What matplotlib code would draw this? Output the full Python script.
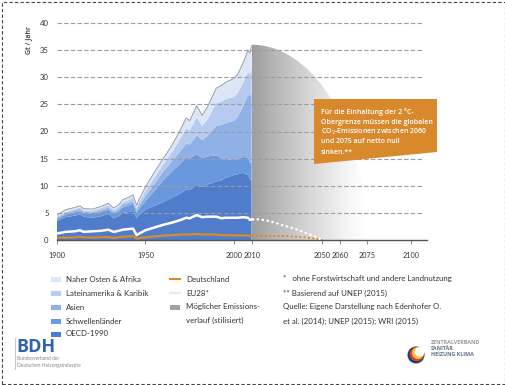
import matplotlib.pyplot as plt
import matplotlib.patches as mpatches
from matplotlib.lines import Line2D
import numpy as np

plt.rcParams['font.family'] = ['Lato', 'DejaVu Sans']
BOLD = ['Open Sans', 'Roboto', 'DejaVu Sans']

# --- data (Gt CO2 / Jahr) ---
years = [1900, 1905, 1910, 1913, 1915, 1920, 1925, 1929, 1932, 1935, 1937, 1940,
         1943, 1945, 1946, 1950, 1955, 1960, 1965, 1970, 1973, 1975, 1979, 1982,
         1985, 1990, 1993, 1995, 2000, 2002, 2005, 2008, 2009, 2010]
oecd = [3.5, 4.2, 4.5, 4.7, 4.3, 4.1, 4.4, 4.8, 4.0, 4.4, 5.0, 5.1, 5.4, 4.0, 4.5,
        5.6, 6.3, 7.0, 7.8, 8.6, 9.3, 9.2, 10.2, 9.8, 10.2, 10.8, 11.0, 11.4, 12.0,
        12.1, 12.4, 12.0, 11.2, 11.0]
schwellen = [0.4, 0.5, 0.6, 0.6, 0.6, 0.7, 0.8, 0.8, 0.8, 0.9, 1.0, 1.2, 1.3, 1.0,
             1.1, 1.6, 2.7, 4.0, 4.8, 5.6, 5.9, 5.8, 5.6, 5.3, 5.2, 4.8, 4.0, 3.4,
             2.8, 2.8, 2.9, 3.2, 3.1, 3.2]
asien = [0.2, 0.3, 0.3, 0.4, 0.3, 0.3, 0.3, 0.4, 0.4, 0.4, 0.5, 0.5, 0.5, 0.5, 0.6,
         0.9, 1.3, 1.6, 1.9, 2.3, 2.6, 2.6, 3.5, 3.3, 3.8, 5.4, 6.2, 6.7, 7.2, 7.7,
         9.2, 11.6, 12.2, 13.3]
lateinamerika = [0.2, 0.2, 0.3, 0.3, 0.3, 0.3, 0.4, 0.4, 0.3, 0.4, 0.4, 0.5, 0.6,
                 0.4, 0.5, 0.9, 1.2, 1.3, 1.7, 2.3, 2.8, 2.6, 3.3, 2.6, 3.0, 4.2,
                 4.3, 4.4, 4.4, 4.4, 4.3, 4.2, 4.1, 4.1]
naher_osten = [0.3, 0.4, 0.3, 0.3, 0.3, 0.3, 0.3, 0.4, 0.4, 0.4, 0.5, 0.5, 0.5, 0.5,
               0.5, 0.8, 1.0, 1.1, 1.3, 1.7, 1.9, 1.8, 2.2, 2.0, 2.3, 2.8, 3.0, 3.1,
               3.4, 3.5, 3.7, 4.0, 3.9, 4.2]
eu28 = [1.2, 1.5, 1.6, 1.8, 1.5, 1.6, 1.7, 1.9, 1.5, 1.7, 1.9, 2.0, 2.1, 0.9, 1.1,
        1.8, 2.3, 2.8, 3.2, 3.7, 4.1, 4.0, 4.6, 4.2, 4.3, 4.3, 4.0, 4.1, 4.1, 4.1,
        4.2, 4.1, 3.7, 3.8]
deutschland = [0.4, 0.45, 0.5, 0.6, 0.5, 0.45, 0.5, 0.55, 0.4, 0.5, 0.6, 0.65, 0.7,
               0.25, 0.3, 0.5, 0.65, 0.8, 0.9, 1.0, 1.05, 1.0, 1.1, 1.0, 1.05, 1.0,
               0.9, 0.9, 0.85, 0.85, 0.85, 0.8, 0.75, 0.8]

proj_years = [2010, 2015, 2020, 2025, 2030, 2035, 2040, 2045, 2050]
eu28_proj = [3.8, 3.8, 3.5, 3.0, 2.5, 2.0, 1.4, 0.7, 0.0]
de_proj = [0.8, 0.78, 0.75, 0.72, 0.7, 0.62, 0.5, 0.3, 0.0]

# stilisierter Verlauf
pfad_start, pfad_ende, pfad_max = 2010, 2075, 36.0

xticks = [1900, 1950, 2000, 2010, 2050, 2060, 2075, 2100]
layer_names = ['OECD-1990', 'Schwellenländer', 'Asien',
               'Lateinamerika & Karibik', 'Naher Osten & Afrika']
layer_colors = ['#4f7dcc', '#6a98dc', '#8fb1e6', '#b6cbef', '#dce6f6']

W, H = 506, 385
fig = plt.figure(figsize=(W / 100, H / 100), dpi=100)
T = fig.dpi_scale_trans


def P(x, y):
    return (x / 100, (H - y) / 100)


ax = fig.add_axes([57 / W, 1 - 240 / H, 368 / W, 217 / H])
for s in ax.spines.values():
    s.set_visible(False)

ax.stackplot(years, oecd, schwellen, asien, lateinamerika, naher_osten,
             colors=layer_colors, lw=0, zorder=1)
total = np.sum([oecd, schwellen, asien, lateinamerika, naher_osten], axis=0)
ax.plot(years, total, color='#8d94a3', lw=0.6, zorder=2)

# gray gradient shape
gx = np.linspace(0, 1, 300)
shade = 1 - 0.38 * (1 - gx) ** 1.25
img = np.dstack([shade, shade, shade]).repeat(2, axis=0)
im = ax.imshow(img, extent=[pfad_start, pfad_ende, 0, pfad_max], aspect='auto',
               zorder=1, interpolation='bilinear')
th = np.linspace(0, np.pi / 2, 100)
ex = pfad_start + (pfad_ende - pfad_start) * np.sin(th)
ey = pfad_max * np.cos(th)
clip = mpatches.Polygon(np.column_stack([np.r_[pfad_start, ex], np.r_[0, ey]]),
                        closed=True, transform=ax.transData, fc='none', ec='none')
ax.add_patch(clip)
im.set_clip_path(clip)
ax.set_xlim(1900, 2108)
ax.set_ylim(0, 40)

# grid
for v in range(5, 45, 5):
    ax.plot([1900, 2107], [v, v], color='#9c9c9c', lw=0.8, ls=(0, (4, 2)), zorder=3)
ax.plot([1900, 2109], [0, 0], color='#555555', lw=1.0, zorder=4, clip_on=False)

ax.plot(years, eu28, color='white', lw=1.8, zorder=5)
ax.plot(years, deutschland, color='#e08a1f', lw=1.5, zorder=5)
ax.plot(proj_years, eu28_proj, color='white', lw=1.5, ls=(0, (1.2, 1.2)), zorder=5)
ax.plot(proj_years, de_proj, color='#e08a1f', lw=1.3, ls=(0, (1.2, 1.2)), zorder=5)

ax.set_xticks(xticks)
ax.set_xticklabels([str(t) for t in xticks])
ax.set_yticks(range(0, 45, 5))
ax.tick_params(axis='x', length=3, width=0.6, color='#777777', pad=6,
               labelsize=5.2, labelcolor='#333333')
ax.tick_params(axis='y', length=0, pad=6, labelsize=5.6, labelcolor='#333333')

fig.text(*P(29, 40), 'Gt / Jahr', transform=T, rotation=90, ha='center',
         va='center', fontsize=5.0, color='#333333', fontweight='semibold',
         family=BOLD)

# orange box
box = mpatches.Polygon([P(314, 99), P(437, 99), P(437, 152), P(314, 164)],
                       closed=True, transform=T, fc='#d8892c', ec='none', zorder=10)
fig.add_artist(box)
box_lines = ['Für die Einhaltung der 2 °C-', 'Obergrenze müssen die globalen',
             'CO$_2$-Emissionen zwischen 2060', 'und 2075 auf netto null',
             'sinken.**']
for i, line in enumerate(box_lines):
    fig.text(*P(321, 112 + i * 10), line, transform=T, ha='left', va='center',
             fontsize=5.0, color='white', fontweight='semibold', family=BOLD,
             zorder=11)

# legend
fs = 5.7
left_rows = [279, 293, 307, 321, 334]
for y, name, c in zip(left_rows, layer_names[::-1], layer_colors[::-1]):
    fig.add_artist(mpatches.Rectangle(P(51, y + 2.5), 0.1, 0.05, transform=T,
                                      fc=c, ec='none'))
    fig.text(*P(66, y), name, transform=T, va='center', fontsize=fs, color='#333333')

fig.add_artist(Line2D([1.70, 1.80], [P(0, 279)[1]] * 2, transform=T,
                      color='#e08a1f', lw=1.5))
fig.text(*P(186, 279), 'Deutschland', transform=T, va='center', fontsize=fs,
         color='#333333')
fig.add_artist(Line2D([1.70, 1.80], [P(0, 293)[1]] * 2, transform=T,
                      color='#e2e9f6', lw=1.5))
fig.text(*P(186, 293), 'EU28*', transform=T, va='center', fontsize=fs,
         color='#333333')
fig.add_artist(mpatches.Rectangle(P(170, 309.5), 0.1, 0.05, transform=T,
                                  fc='#9fa3ab', ec='none'))
fig.text(*P(186, 307), 'Möglicher Emissions-', transform=T, va='center',
         fontsize=fs, color='#333333')
fig.text(*P(186, 320), 'verlauf (stilisiert)', transform=T, va='center',
         fontsize=fs, color='#333333')

notes = [(279, '*   ohne Forstwirtschaft und andere Landnutzung'),
         (293, '** Basierend auf UNEP (2015)'),
         (307, 'Quelle: Eigene Darstellung nach Edenhofer O.'),
         (321, 'et al. (2014); UNEP (2015); WRI (2015)')]
for y, s in notes:
    fig.text(*P(283, y), s, transform=T, va='center', fontsize=fs, color='#333333')

# BDH logo
fig.add_artist(Line2D([0.15, 0.15], [P(0, 338)[1], P(0, 369)[1]], transform=T,
                      color='#bbbbbb', lw=0.6))
fig.text(*P(16, 347), 'BDH', transform=T, va='center', fontsize=13,
         fontweight='bold', color='#2f63ad', family=BOLD)
fig.text(*P(17, 359), 'Bundesverband der', transform=T, va='center',
         fontsize=3.5, color='#888888')
fig.text(*P(17, 366), 'Deutschen Heizungsindustrie', transform=T, va='center',
         fontsize=3.5, color='#888888')

# ZVSHK logo
for (cx, cy), r, col in [((416, 355), 0.085, '#1f3f7a'), ((417, 354), 0.072, '#e0452b'),
                         ((418, 353), 0.060, '#f5c431'), ((419.5, 352), 0.048, 'white')]:
    fig.add_artist(mpatches.Circle(P(cx, cy), r, transform=T, fc=col, ec='none'))
fig.text(*P(431, 343), 'ZENTRALVERBAND', transform=T, va='center', fontsize=3.9,
         color='#9a9a9a', fontweight='bold', family=BOLD)
fig.text(*P(431, 349), 'SANITÄR', transform=T, va='center', fontsize=3.9,
         color='#5f6f88', fontweight='bold', family=BOLD)
fig.text(*P(431, 355), 'HEIZUNG KLIMA', transform=T, va='center', fontsize=3.9,
         color='#5f6f88', fontweight='bold', family=BOLD)

# dashed frame
fig.add_artist(mpatches.Rectangle(P(1.5, 383.5), 5.03, 3.82, transform=T,
                                  fc='none', ec='#444444', lw=0.8,
                                  ls=(0, (3, 2))))

fig.savefig('out.png', dpi=100)
